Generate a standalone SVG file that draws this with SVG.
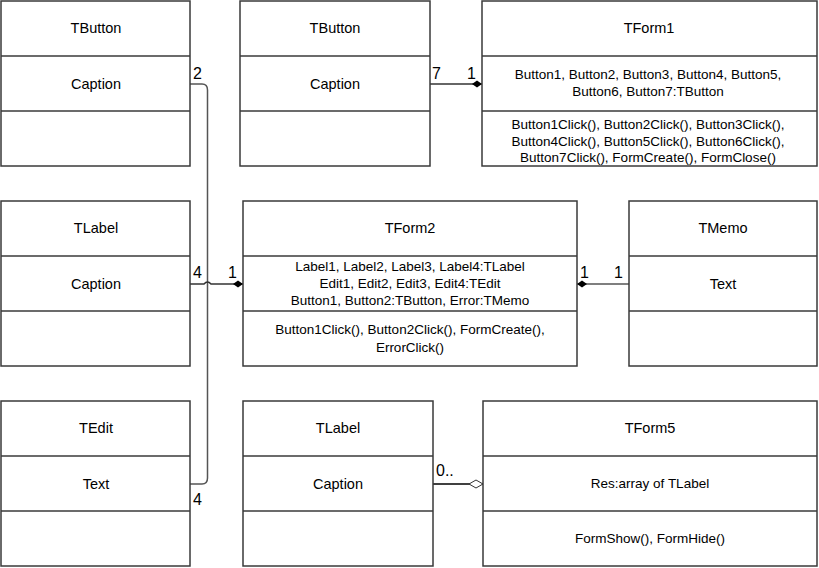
<svg xmlns="http://www.w3.org/2000/svg" width="819" height="568" viewBox="0 0 819 568">
<style>
.box{fill:#fff;stroke:#3a3a3a;stroke-width:1.5}
.sep{stroke:#3a3a3a;stroke-width:1.5}
.t{font-family:"Liberation Sans",Arial,sans-serif;font-size:14.5px;fill:#000;text-anchor:middle}
.m{font-family:"Liberation Sans",Arial,sans-serif;font-size:13.5px;fill:#000;text-anchor:middle}
.n{font-family:"Liberation Sans",Arial,sans-serif;font-size:16px;fill:#000}
.c{fill:none;stroke:#555;stroke-width:1.5}
</style>
<defs>
<marker id="fd" markerWidth="12" markerHeight="8" refX="11" refY="4" orient="auto" markerUnits="userSpaceOnUse">
<path d="M1,4 L6,0.5 L11,4 L6,7.5 Z" fill="#000"/>
</marker>
<marker id="hd" markerWidth="16" markerHeight="10" refX="15" refY="5" orient="auto" markerUnits="userSpaceOnUse">
<path d="M1,5 L8,1 L15,5 L8,9 Z" fill="#fff" stroke="#333" stroke-width="1"/>
</marker>
</defs>

<g id="connectors">
<path class="c" d="M190,84 H202 Q207.5,84 207.5,90 V478 Q207.5,484 202,484 H190"/>
<path class="c" d="M190,284 H204 Q207.5,280 211,284 H243" marker-end="url(#fd)" style="stroke:#333"/>
<path class="c" d="M430,84 H482" marker-end="url(#fd)" style="stroke:#333"/>
<path class="c" d="M629,284 H577" marker-end="url(#fd)"/>
<path class="c" d="M433,484 H483" marker-end="url(#hd)" style="stroke:#000"/>
<text class="n" x="193" y="79">2</text>
<text class="n" x="432" y="79">7</text>
<text class="n" x="467" y="79">1</text>
<text class="n" x="193" y="278">4</text>
<text class="n" x="228" y="278">1</text>
<text class="n" x="580" y="278">1</text>
<text class="n" x="614" y="278">1</text>
<text class="n" x="193" y="505">4</text>
<text class="n" x="436" y="476">0..</text>
</g>

<g id="tbutton1">
<rect class="box" x="1" y="1" width="189" height="165"/>
<line class="sep" x1="1" y1="56" x2="190" y2="56"/>
<line class="sep" x1="1" y1="111" x2="190" y2="111"/>
<text class="t" x="96" y="33">TButton</text>
<text class="t" x="96" y="89">Caption</text>
</g>

<g id="tbutton2">
<rect class="box" x="240" y="1" width="190" height="165"/>
<line class="sep" x1="240" y1="56" x2="430" y2="56"/>
<line class="sep" x1="240" y1="111" x2="430" y2="111"/>
<text class="t" x="335" y="33">TButton</text>
<text class="t" x="335" y="89">Caption</text>
</g>

<g id="tform1">
<rect class="box" x="482" y="1" width="335" height="165"/>
<line class="sep" x1="482" y1="56" x2="817" y2="56"/>
<line class="sep" x1="482" y1="111" x2="817" y2="111"/>
<text class="t" x="649" y="33">TForm1</text>
<text class="m" x="648" y="79">Button1, Button2, Button3, Button4, Button5,</text>
<text class="m" x="648" y="96">Button6, Button7:TButton</text>
<text class="m" x="648" y="129">Button1Click(), Button2Click(), Button3Click(),</text>
<text class="m" x="648" y="146">Button4Click(), Button5Click(), Button6Click(),</text>
<text class="m" x="648" y="162">Button7Click(), FormCreate(), FormClose()</text>
</g>

<g id="tlabel1">
<rect class="box" x="1" y="201" width="189" height="165"/>
<line class="sep" x1="1" y1="256" x2="190" y2="256"/>
<line class="sep" x1="1" y1="311" x2="190" y2="311"/>
<text class="t" x="96" y="233">TLabel</text>
<text class="t" x="96" y="289">Caption</text>
</g>

<g id="tform2">
<rect class="box" x="243" y="201" width="334" height="165"/>
<line class="sep" x1="243" y1="256" x2="577" y2="256"/>
<line class="sep" x1="243" y1="311" x2="577" y2="311"/>
<text class="t" x="410" y="233">TForm2</text>
<text class="m" x="410" y="271">Label1, Label2, Label3, Label4:TLabel</text>
<text class="m" x="410" y="288">Edit1, Edit2, Edit3, Edit4:TEdit</text>
<text class="m" x="410" y="305">Button1, Button2:TButton, Error:TMemo</text>
<text class="m" x="410" y="334">Button1Click(), Button2Click(), FormCreate(),</text>
<text class="m" x="410" y="352">ErrorClick()</text>
</g>

<g id="tmemo">
<rect class="box" x="629" y="201" width="188" height="165"/>
<line class="sep" x1="629" y1="256" x2="817" y2="256"/>
<line class="sep" x1="629" y1="311" x2="817" y2="311"/>
<text class="t" x="723" y="233">TMemo</text>
<text class="t" x="723" y="289">Text</text>
</g>

<g id="tedit">
<rect class="box" x="1" y="401" width="189" height="165"/>
<line class="sep" x1="1" y1="456" x2="190" y2="456"/>
<line class="sep" x1="1" y1="511" x2="190" y2="511"/>
<text class="t" x="96" y="433">TEdit</text>
<text class="t" x="96" y="489">Text</text>
</g>

<g id="tlabel2">
<rect class="box" x="243" y="401" width="190" height="165"/>
<line class="sep" x1="243" y1="456" x2="433" y2="456"/>
<line class="sep" x1="243" y1="511" x2="433" y2="511"/>
<text class="t" x="338" y="433">TLabel</text>
<text class="t" x="338" y="489">Caption</text>
</g>

<g id="tform5">
<rect class="box" x="483" y="401" width="334" height="165"/>
<line class="sep" x1="483" y1="456" x2="817" y2="456"/>
<line class="sep" x1="483" y1="511" x2="817" y2="511"/>
<text class="t" x="650" y="433">TForm5</text>
<text class="m" x="650" y="488">Res:array of TLabel</text>
<text class="m" x="650" y="543">FormShow(), FormHide()</text>
</g>
</svg>
